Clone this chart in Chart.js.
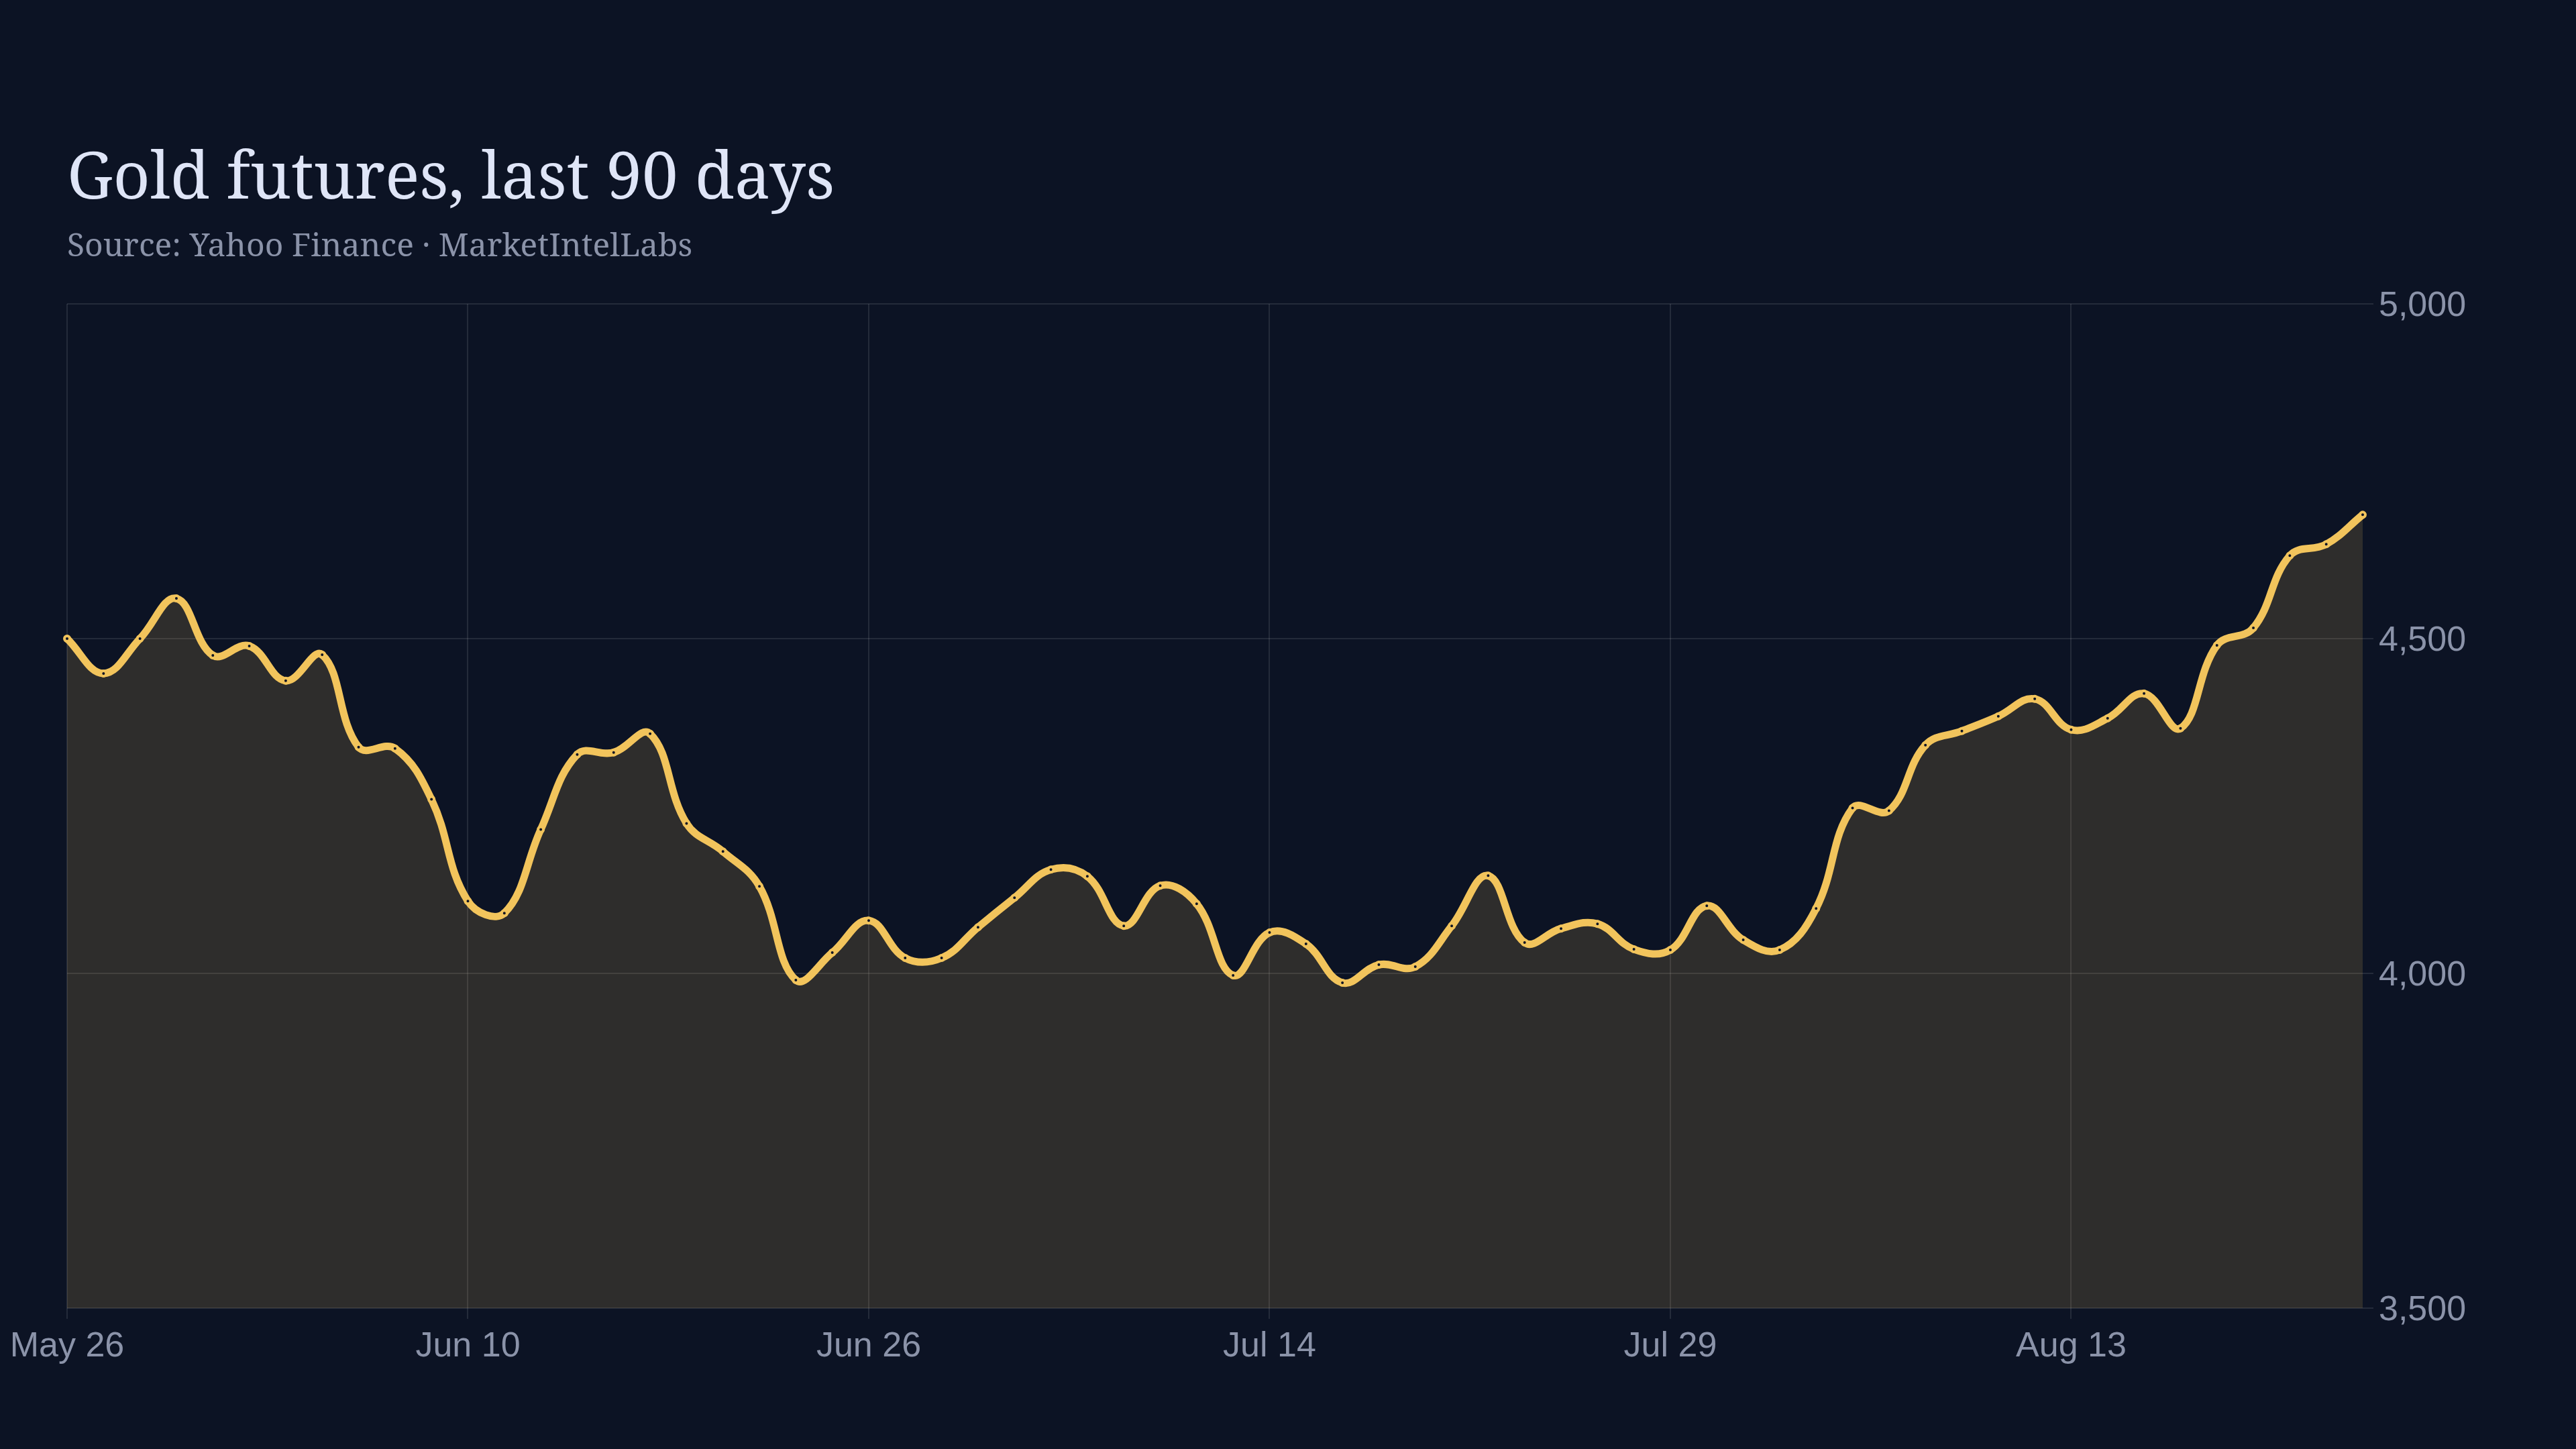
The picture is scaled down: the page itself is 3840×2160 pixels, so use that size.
<!DOCTYPE html>
<html>
<head>
<meta charset="utf-8">
<title>Gold futures, last 90 days</title>
<script src="https://cdn.jsdelivr.net/npm/chart.js@4.4.1/dist/chart.umd.min.js"></script>
<style>
  html, body { margin: 0; padding: 0; background: #0c1324; }
  #wrap { position: relative; width: 3840px; height: 2160px; overflow: hidden; }
  #title {
    position: absolute; left: 100px; top: 211px; margin: 0;
    font-family: "Noto Serif", "DejaVu Serif", serif; font-weight: 400;
    font-size: 96px; line-height: 1; color: #dfe5f7;
  }
  #subtitle {
    position: absolute; left: 100px; top: 340px; margin: 0;
    font-family: "Noto Serif", "DejaVu Serif", serif;
    font-size: 48px; line-height: 1; color: #8b93a9;
  }
  #box { position: absolute; left: 0; top: 0; width: 3840px; height: 2160px; }
</style>
</head>
<body>
<div id="wrap">
  <div id="box"><canvas id="lineChart"></canvas></div>
  <h1 id="title">Gold futures, last 90 days</h1>
  <div id="subtitle">Source: Yahoo Finance · MarketIntelLabs</div>
</div>
<script>
// Dias de mercado (categorias del eje x)
var fechas = [
  "May 26", "May 27", "May 28", "May 29", "May 30", "Jun 2", "Jun 3", "Jun 4",
  "Jun 5", "Jun 6", "Jun 9", "Jun 10", "Jun 11", "Jun 12", "Jun 13", "Jun 16",
  "Jun 17", "Jun 18", "Jun 20", "Jun 23", "Jun 24", "Jun 25", "Jun 26", "Jun 27",
  "Jun 30", "Jul 1", "Jul 2", "Jul 3", "Jul 7", "Jul 8", "Jul 9", "Jul 10",
  "Jul 11", "Jul 14", "Jul 15", "Jul 16", "Jul 17", "Jul 18", "Jul 21", "Jul 22",
  "Jul 23", "Jul 24", "Jul 25", "Jul 28", "Jul 29", "Jul 30", "Jul 31", "Aug 1",
  "Aug 4", "Aug 5", "Aug 6", "Aug 7", "Aug 8", "Aug 11", "Aug 12", "Aug 13",
  "Aug 14", "Aug 15", "Aug 18", "Aug 19", "Aug 20", "Aug 21", "Aug 22", "Aug 25"
];

// Precio de cierre del oro
var precios = [
  4500, 4448, 4500, 4560, 4475, 4489, 4437, 4476,
  4338, 4336, 4260, 4108, 4090, 4215, 4327, 4330,
  4358, 4224, 4182, 4130, 3990, 4031, 4079, 4023,
  4023, 4069, 4113, 4155, 4145, 4071, 4131, 4104,
  3997, 4061, 4044, 3986, 4013, 4010, 4071, 4146,
  4046, 4067, 4074, 4036, 4035, 4101, 4050, 4035,
  4097, 4247, 4243, 4341, 4362, 4384, 4410, 4364,
  4381, 4418, 4366, 4490, 4516, 4624, 4641, 4685
];

// Fechas que llevan etiqueta en el eje x
var fechasEtiqueta = ["May 26", "Jun 10", "Jun 26", "Jul 14", "Jul 29", "Aug 13"];

// Marcas del eje y
var ticksY = [3500, 4000, 4500, 5000];

var dorado = '#f2c45c';
var colorTexto = '#8b93a9';
var colorGrid = 'rgba(255,255,255,0.1)';

var ctxL = document.getElementById("lineChart").getContext('2d');

var myLineChart = new Chart(ctxL, {
    type: 'line',
    data: {
        labels: fechas,
        datasets: [{
            label: "Gold futures",
            data: precios,
            borderColor: dorado,
            backgroundColor: 'rgba(242,196,92,0.15)',
            borderWidth: 11,
            tension: 0.4,
            fill: 'start',
            pointRadius: 4,
            pointBorderWidth: 4,
            pointBackgroundColor: '#0c1324',
            pointBorderColor: dorado,
            pointHoverRadius: 4,
            clip: 14
        }]
    },
    options: {
        responsive: true,
        maintainAspectRatio: false,
        devicePixelRatio: 1,
        animation: false,
        layout: {
            padding: { left: 100, top: 453, right: 0, bottom: 0 }
        },
        scales: {
            x: {
                ticks: {
                    autoSkip: false,
                    maxRotation: 0,
                    padding: 10,
                    color: colorTexto,
                    font: { family: '"Liberation Sans", Arial, sans-serif', size: 52 }
                },
                afterBuildTicks: function (scale) {
                    scale.ticks = scale.ticks.filter(function (t) {
                        return fechasEtiqueta.indexOf(fechas[t.value]) !== -1;
                    });
                },
                afterFit: function (scale) { scale.height = 210; },
                grid: { color: colorGrid, lineWidth: 2, tickLength: 16 },
                border: { display: false }
            },
            y: {
                position: 'right',
                min: 3500,
                max: 5000,
                afterBuildTicks: function (scale) {
                    scale.ticks = ticksY.map(function (v) { return { value: v }; });
                },
                ticks: {
                    padding: 8,
                    labelOffset: 4,
                    color: colorTexto,
                    font: { family: '"Liberation Sans", Arial, sans-serif', size: 52 },
                    callback: function (v) { return v.toLocaleString('en-US'); }
                },
                afterFit: function (scale) { scale.width = 318; },
                grid: { color: colorGrid, lineWidth: 2, tickLength: 16 },
                border: { display: false }
            }
        },
        plugins: {
            legend: { display: false },
            tooltip: { mode: 'index', intersect: false }
        }
    }
});
</script>
</body>
</html>
